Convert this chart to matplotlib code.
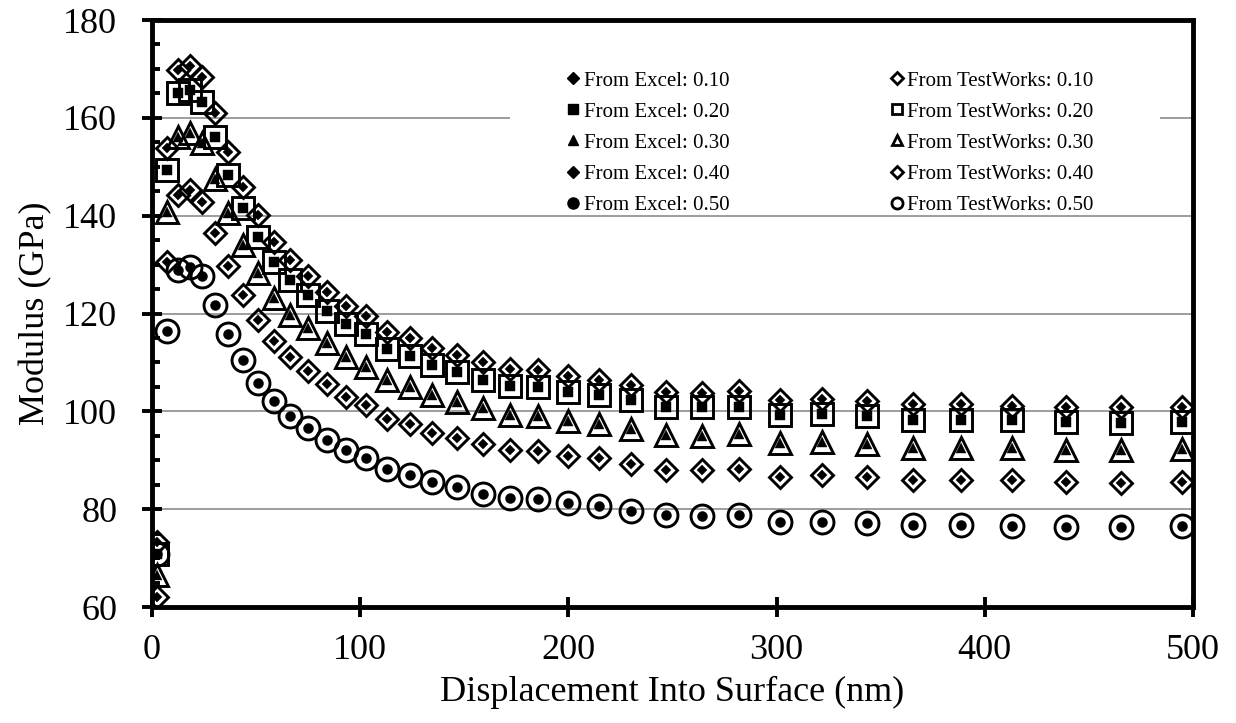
import matplotlib
matplotlib.use("Agg")
import matplotlib.pyplot as plt
from matplotlib.ticker import MultipleLocator
from matplotlib.lines import Line2D
from matplotlib.patches import Rectangle

# ---- data ----
depth_nm = [2.2, 7.3, 12.6, 18.2, 23.8, 30.3, 36.6, 43.8, 51.0, 58.5, 66.4, 75.1,
            84.0, 93.1, 102.8, 113.0, 123.9, 134.7, 146.5, 159.0, 172.0, 185.5,
            200.0, 214.6, 230.3, 247.1, 264.2, 282.0, 301.6, 322.0, 343.2, 365.3,
            388.5, 413.0, 438.9, 465.3, 494.6]

testworks_010 = [73.3, 153.8, 169.8, 170.6, 168.4, 160.9, 153.1, 145.9, 140.1, 134.7,
                 130.9, 127.6, 124.4, 121.5, 119.5, 116.3, 114.9, 112.9, 111.5, 110.1,
                 108.6, 108.4, 107.2, 106.5, 105.4, 104.0, 103.8, 104.2, 102.4, 102.6,
                 102.2, 101.5, 101.5, 101.0, 100.8, 100.8, 100.8]
testworks_020 = [70.9, 149.3, 165.0, 165.7, 163.3, 156.1, 148.3, 141.5, 135.6, 130.6,
                 126.8, 123.8, 120.5, 117.8, 115.8, 112.7, 111.3, 109.4, 108.0, 106.5,
                 105.2, 105.0, 104.0, 103.3, 102.3, 100.8, 100.8, 100.9, 99.2, 99.4,
                 99.0, 98.2, 98.2, 98.2, 97.9, 97.7, 97.9]
testworks_030 = [66.5, 140.8, 156.1, 157.0, 154.8, 147.6, 140.5, 134.0, 128.2, 123.1,
                 119.6, 117.0, 113.9, 111.2, 109.1, 106.4, 105.0, 103.3, 101.9, 100.7,
                 99.2, 99.0, 98.1, 97.5, 96.3, 95.1, 94.9, 95.3, 93.6, 93.8,
                 93.3, 92.6, 92.6, 92.6, 92.2, 92.2, 92.4]
testworks_040 = [62.1, 130.6, 144.2, 145.2, 142.8, 136.5, 129.7, 123.8, 118.7, 114.3,
                 111.1, 108.3, 105.5, 103.0, 101.3, 98.5, 97.4, 95.6, 94.5, 93.3,
                 92.1, 91.9, 90.8, 90.4, 89.3, 88.1, 88.0, 88.3, 86.6, 87.0,
                 86.5, 85.9, 85.9, 85.9, 85.6, 85.4, 85.6]
testworks_050 = [70.9, 116.5, 128.9, 129.6, 127.6, 121.7, 115.8, 110.5, 105.8, 102.1,
                 99.0, 96.6, 94.2, 92.1, 90.4, 88.3, 87.0, 85.6, 84.5, 83.2,
                 82.2, 82.0, 81.2, 80.6, 79.7, 78.8, 78.6, 78.8, 77.3, 77.4,
                 77.2, 76.7, 76.7, 76.6, 76.4, 76.4, 76.5]

# Excel values coincide with the TestWorks values in the chart
excel_010 = list(testworks_010)
excel_020 = list(testworks_020)
excel_030 = list(testworks_030)
excel_040 = list(testworks_040)
excel_050 = list(testworks_050)

ratios = ["0.10", "0.20", "0.30", "0.40", "0.50"]
excel_series = [excel_010, excel_020, excel_030, excel_040, excel_050]
tw_series = [testworks_010, testworks_020, testworks_030, testworks_040, testworks_050]

# ---- styling ----
plt.rcParams["font.family"] = ["Liberation Serif", "DejaVu Serif"]

markers = ["D", "s", "^", "D", "o"]
tw_sizes = [11.5, 16.5, 15.5, 11.5, 16.5]
ex_sizes = [4.8, 7.2, 7.5, 4.8, 7.2]

fig = plt.figure(figsize=(12.36, 7.23), dpi=100)
ax = fig.add_axes([0.123, 0.1604, 0.8422, 0.8119])

for m, s, ys in zip(markers, tw_sizes, tw_series):
    ax.plot(depth_nm, ys, linestyle="none", marker=m, markersize=s,
            markerfacecolor="none", markeredgecolor="black", markeredgewidth=2.1,
            zorder=3)
for m, s, ys in zip(markers, ex_sizes, excel_series):
    ax.plot(depth_nm, ys, linestyle="none", marker=m, markersize=s,
            markerfacecolor="black", markeredgecolor="black", markeredgewidth=0.3,
            zorder=4)

ax.set_xlim(0, 500)
ax.set_ylim(60, 180)
ax.xaxis.set_major_locator(MultipleLocator(100))
ax.yaxis.set_major_locator(MultipleLocator(20))
ax.yaxis.set_minor_locator(MultipleLocator(5))

ax.grid(axis="y", which="major", color="#8c8c8c", linewidth=1.2, zorder=0)
ax.set_axisbelow(True)

for sp in ax.spines.values():
    sp.set_linewidth(3.5)

ax.tick_params(axis="x", which="major", direction="inout", length=15, width=2.8,
               labelsize=26, pad=12)
ax.tick_params(axis="y", which="major", direction="inout", length=15, width=2.8,
               labelsize=26, pad=17.5)
ax.tick_params(axis="y", which="minor", direction="in", length=6, width=2.8)

ax.set_xlabel("Displacement Into Surface (nm)", fontsize=26, labelpad=6)
ax.set_ylabel("Modulus (GPa)", fontsize=26, labelpad=8)

# white area behind the legend (hides the gridline there)
ax.add_patch(Rectangle((0.344, 0.675), 0.624, 0.26, transform=ax.transAxes,
                       facecolor="white", edgecolor="none", zorder=1))

# legend with small proxy markers
handles = []
labels = []
leg_ex_sizes = [6, 7, 7, 6, 8]
leg_tw_sizes = [6, 7.5, 7.5, 6, 8]
for m, s, r in zip(markers, leg_ex_sizes, ratios):
    handles.append(Line2D([], [], linestyle="none", marker=m, markersize=s,
                          markerfacecolor="black", markeredgecolor="black"))
    labels.append(f"From Excel: {r}")
for m, s, r in zip(markers, leg_tw_sizes, ratios):
    handles.append(Line2D([], [], linestyle="none", marker=m, markersize=s,
                          markerfacecolor="none", markeredgecolor="black",
                          markeredgewidth=2.0))
    labels.append(f"From TestWorks: {r}")

leg = ax.legend(handles, labels, ncol=2, loc="upper left",
                bbox_to_anchor=(0.3996, 0.913), fontsize=15, frameon=False,
                handlelength=0.5, handletextpad=0.25,
                columnspacing=7.8, labelspacing=0.55, borderpad=0.0,
                borderaxespad=0.0)
leg.set_zorder(5)

fig.savefig("out.png", dpi=100)
